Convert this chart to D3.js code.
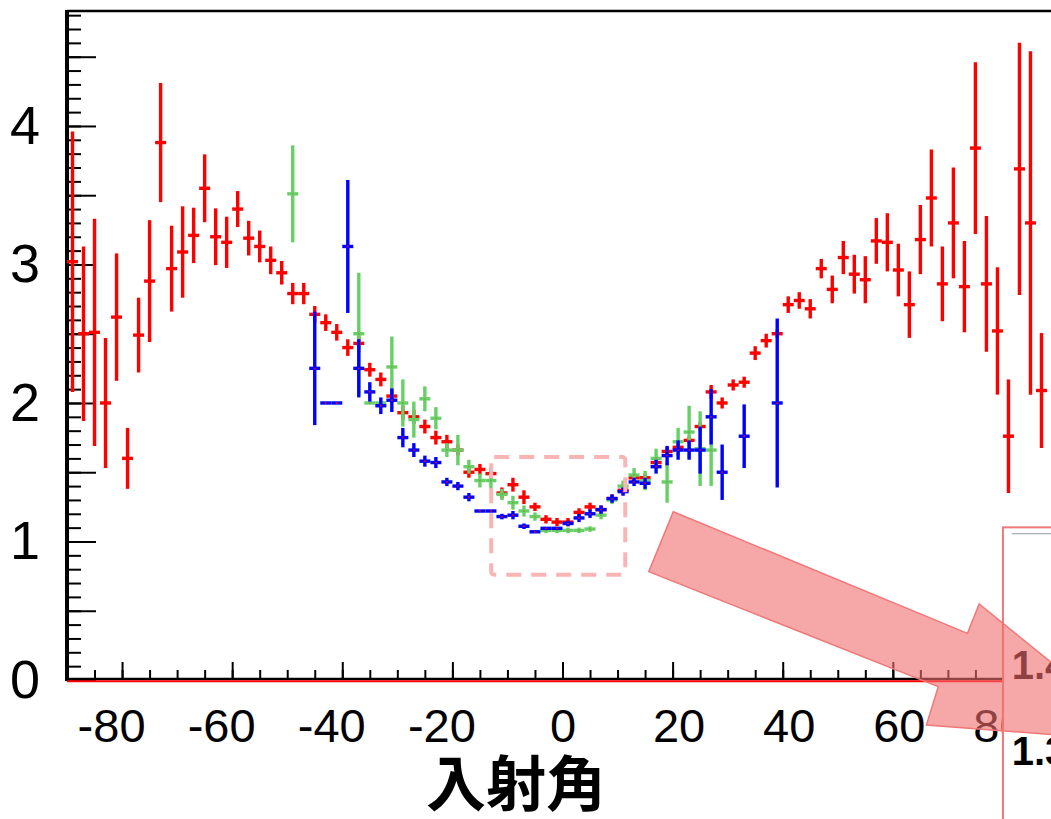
<!DOCTYPE html>
<html>
<head>
<meta charset="utf-8">
<script src="https://cdn.jsdelivr.net/npm/d3@7"></script>
<style>
  body { margin: 0; background: #fff; }
  svg { display: block; }
</style>
</head>
<body>
<div id="chart"></div>
<script>
// Bin centres are every 2 degrees, each point spans +-1 degree
const binHalfWidth = 1;

// Red series
const redAngle = [-89, -87, -85, -83, -81, -79, -77, -75, -73, -71, -69, -67, -65, -63, -61, -59, -57, -55,
  -53, -51, -49, -47, -45, -43, -41, -39, -37, -35, -33, -31, -29, -27, -25, -23, -21, -19, -17, -15, -13, -11,
  -9, -7, -5, -3, -1, 1, 3, 5, 7, 9, 11, 13, 15, 17, 19, 21, 23, 25, 27, 29, 31, 33, 35, 37, 39,
  41, 43, 45, 47, 49, 51, 53, 55, 57, 59, 61, 63, 65, 67, 69, 71, 73, 75, 77, 79, 81, 83, 85, 87];
const redValue = [3.02, 2.50, 2.51, 2.00, 2.62, 1.60, 2.49, 2.88, 3.88, 2.97, 3.09, 3.21, 3.55, 3.20, 3.16, 3.40, 3.19, 3.13,
  3.03, 2.94, 2.79, 2.79, 2.64, 2.58, 2.51, 2.40, 2.43, 2.24, 2.17, 2.05, 1.93, 1.90, 1.83, 1.75, 1.72, 1.66, 1.50, 1.52, 1.49, 1.35,
  1.41, 1.32, 1.25, 1.16, 1.14, 1.14, 1.21, 1.25, 1.23, 1.31, 1.37, 1.46, 1.46, 1.57, 1.65, 1.68, 1.73, 1.83, 2.08, 2.00, 2.13, 2.15, 2.36, 2.45, 2.50,
  2.71, 2.74, 2.68, 2.97, 2.82, 3.05, 2.93, 2.89, 3.17, 3.16, 2.96, 2.71, 3.18, 3.48, 2.86, 3.30, 2.84, 3.84, 2.86, 2.52, 1.76, 3.69, 3.30, 2.09];
const redError = [0.94, 0.63, 0.82, 0.47, 0.46, 0.22, 0.27, 0.44, 0.43, 0.31, 0.33, 0.20, 0.245, 0.205, 0.185, 0.13, 0.125, 0.115,
  0.10, 0.085, 0.077, 0.077, 0.06, 0.06, 0.06, 0.06, 0.06, 0.05, 0.05, 0.05, 0.05, 0.05, 0.05, 0.05, 0.05, 0.04, 0.04, 0.04, 0.04, 0.04,
  0.05, 0.05, 0.03, 0.03, 0.03, 0.03, 0.03, 0.03, 0.03, 0.03, 0.03, 0.03, 0.03, 0.03, 0.03, 0.03, 0.03, 0.03, 0.05, 0.04, 0.04, 0.04, 0.05, 0.05, 0.03,
  0.06, 0.06, 0.07, 0.07, 0.10, 0.12, 0.14, 0.17, 0.165, 0.21, 0.19, 0.24, 0.25, 0.35, 0.27, 0.40, 0.33, 0.62, 0.49, 0.46, 0.41, 0.91, 1.24, 0.415];

// Green series
const greenAngle = [-49, -37, -35, -33, -31, -29, -27, -25, -23, -21, -19, -17, -15, -13, -11, -9, -7, -5, -3, -1,
  1, 3, 5, 7, 9, 11, 13, 15, 17, 19, 21, 23, 25, 27];
const greenValue = [3.51, 2.50, 2.00, 2.00, 2.26, 2.00, 1.88, 2.03, 1.89, 1.66, 1.66, 1.54, 1.44, 1.44, 1.34, 1.28, 1.22, 1.18, 1.08, 1.08,
  1.08, 1.08, 1.09, 1.19, 1.30, 1.40, 1.48, 1.44, 1.60, 1.43, 1.72, 1.79, 1.67, 1.66];
const greenError = [0.35, 0.44, 0, 0, 0.22, 0.17, 0.13, 0.09, 0.08, 0.05, 0.11, 0.05, 0.05, 0.06, 0.04, 0.05, 0.04, 0.03, 0.02, 0.02,
  0.02, 0.02, 0.02, 0.03, 0.03, 0.04, 0.05, 0.07, 0.07, 0.15, 0.10, 0.19, 0.27, 0.26];

// Blue series
const blueAngle = [-45, -43, -41, -39, -37, -35, -33, -31, -29, -27, -25, -23, -21, -19, -17, -15, -13, -11, -9, -7,
  -5, -3, -1, 1, 3, 5, 7, 9, 11, 13, 15, 17, 19, 21, 23, 25, 27, 29, 33, 39];
const blueValue = [2.25, 2.00, 2.00, 3.13, 2.25, 2.08, 1.98, 2.02, 1.75, 1.66, 1.58, 1.57, 1.43, 1.40, 1.32, 1.22, 1.22, 1.18, 1.19, 1.11,
  1.07, 1.095, 1.095, 1.13, 1.17, 1.20, 1.23, 1.31, 1.36, 1.43, 1.42, 1.54, 1.62, 1.66, 1.66, 1.66, 1.90, 1.50, 1.76, 2.00];
const blueError = [0.41, 0, 0, 0.48, 0.21, 0.07, 0.06, 0.085, 0.07, 0.05, 0.04, 0.04, 0.03, 0.03, 0.03, 0, 0, 0.02, 0.03, 0.02,
  0, 0, 0, 0.02, 0.03, 0.03, 0.03, 0.03, 0.03, 0.03, 0.04, 0.05, 0.07, 0.07, 0.07, 0.17, 0.20, 0.20, 0.23, 0.61];

// Axis ticks and labels
const xTickLabels = [-80, -60, -40, -20, 0, 20, 40, 60, 80];
const yTickLabels = [0, 1, 2, 3, 4];
const xTitle = "入射角";

// Annotations (in data units): zoom box, arrow, inset labels
const zoomBox = { x0: -12.95, x1: 11.4, y0: 0.76, y1: 1.61 };
const arrowAngle = [20.12, 73.56, 75.68, 106.6, 66.1, 68.25, 15.67];
const arrowValue = [1.215, 0.337, 0.549, -0.448, -0.325, -0.048, 0.782];
const insetLabels = ["1.4", "1.3"];

const width = 1051;
const height = 819;

const svg = d3.select("#chart")
    .append("svg")
    .attr("width", width)
    .attr("height", height);

// Scales (the frame runs past the right side of the picture)
const x = d3.scaleLinear().domain([-90, 90]).range([67, 1058]);
const y = d3.scaleLinear().domain([0, 4.83]).range([680, 11]);

const labelFont = "'Liberation Sans', Arial, sans-serif";

// Y ticks, pointing into the plot
svg.append("g")
    .attr("transform", `translate(${x(-90)},0)`)
    .call(d3.axisRight(y).tickValues(d3.range(0, 4.85, 0.1)).tickSize(14).tickFormat(""))
    .call(g => g.select(".domain").remove())
    .selectAll("line").attr("stroke", "#000").attr("stroke-width", 2);

svg.append("g")
    .attr("transform", `translate(${x(-90)},0)`)
    .call(d3.axisRight(y).tickValues(d3.range(0, 4.85, 0.5)).tickSize(29).tickFormat(""))
    .call(g => g.select(".domain").remove())
    .selectAll("line").attr("stroke", "#000").attr("stroke-width", 2);

// Y labels
svg.append("g")
    .attr("transform", `translate(${x(-90)},0)`)
    .call(d3.axisLeft(y).tickValues(yTickLabels).tickSize(0).tickPadding(27).tickFormat(d => String(d)))
    .call(g => g.select(".domain").remove())
    .selectAll("text")
    .style("font-family", labelFont)
    .style("font-size", "54px")
    .attr("fill", "#000");

// X ticks, pointing up into the plot
svg.append("g")
    .attr("transform", `translate(0,${y(0)})`)
    .call(d3.axisTop(x).tickValues(d3.range(-90, 91, 5)).tickSize(10).tickFormat(""))
    .call(g => g.select(".domain").remove())
    .selectAll("line").attr("stroke", "#000").attr("stroke-width", 2);

svg.append("g")
    .attr("transform", `translate(0,${y(0)})`)
    .call(d3.axisTop(x).tickValues(xTickLabels).tickSize(18).tickFormat(""))
    .call(g => g.select(".domain").remove())
    .selectAll("line").attr("stroke", "#000").attr("stroke-width", 2);

// X labels (plain hyphen for the minus, as in the original)
svg.append("g")
    .attr("transform", `translate(0,${y(0)})`)
    .call(d3.axisBottom(x).tickValues(xTickLabels).tickSize(0).tickFormat(d => String(d)))
    .call(g => g.select(".domain").remove())
    .selectAll("text")
    .attr("y", 62)
    .attr("dy", 0)
    .attr("dx", d => d < 0 ? -11 : (d === 80 ? -4 : (d === 0 ? 0 : 6)))
    .style("font-family", labelFont)
    .style("font-size", "47px")
    .attr("fill", "#000");

// Frame lines
svg.append("line")
    .attr("x1", x(-90)).attr("x2", x(90))
    .attr("y1", y(4.83)).attr("y2", y(4.83))
    .attr("stroke", "#000").attr("stroke-width", 2.5);

svg.append("line")
    .attr("x1", x(-90)).attr("x2", x(-90))
    .attr("y1", y(4.83) - 1).attr("y2", y(0) + 1)
    .attr("stroke", "#000").attr("stroke-width", 4);

svg.append("line")
    .attr("x1", x(-90)).attr("x2", x(90))
    .attr("y1", y(0) - 1).attr("y2", y(0) - 1)
    .attr("stroke", "#000").attr("stroke-width", 2.5);

// red zero line of the histogram
svg.append("line")
    .attr("x1", x(-90)).attr("x2", x(90))
    .attr("y1", y(0) + 1.2).attr("y2", y(0) + 1.2)
    .attr("stroke", "#ff0000").attr("stroke-width", 2);

// Error bar series
function drawSeries(angles, values, errors, color, dotColor) {
    const pts = angles.map((a, i) => ({ a: a, v: values[i], e: errors[i] }));
    const g = svg.append("g");

    g.selectAll("line.vbar")
        .data(pts.filter(d => d.e > 0))
        .enter()
        .append("line")
        .attr("class", "vbar")
        .attr("x1", d => x(d.a))
        .attr("x2", d => x(d.a))
        .attr("y1", d => y(d.v + d.e))
        .attr("y2", d => y(d.v - d.e))
        .attr("stroke", color)
        .attr("stroke-width", 3.4);

    g.selectAll("line.hbar")
        .data(pts)
        .enter()
        .append("line")
        .attr("class", "hbar")
        .attr("x1", d => x(d.a - binHalfWidth))
        .attr("x2", d => x(d.a + binHalfWidth))
        .attr("y1", d => y(d.v))
        .attr("y2", d => y(d.v))
        .attr("stroke", color)
        .attr("stroke-width", 3.4);

    g.selectAll("circle")
        .data(pts)
        .enter()
        .append("circle")
        .attr("cx", d => x(d.a))
        .attr("cy", d => y(d.v))
        .attr("r", 0.9)
        .attr("fill", dotColor);
}

drawSeries(redAngle, redValue, redError, "#ff0000", "#ff0000");
drawSeries(greenAngle, greenValue, greenError, "#66d066", "#8a9a4a");
drawSeries(blueAngle, blueValue, blueError, "#0000ff", "#ff0000");

// X title
svg.append("text")
    .attr("x", 516)
    .attr("y", 806)
    .attr("text-anchor", "middle")
    .style("font-family", "'Noto Sans CJK JP', 'Noto Sans CJK SC', sans-serif")
    .style("font-weight", "bold")
    .style("font-size", "60px")
    .attr("fill", "#000")
    .text(xTitle);

// Dashed zoom box round the minimum
svg.append("rect")
    .attr("x", x(zoomBox.x0))
    .attr("y", y(zoomBox.y1))
    .attr("width", x(zoomBox.x1) - x(zoomBox.x0))
    .attr("height", y(zoomBox.y0) - y(zoomBox.y1))
    .attr("rx", 3)
    .attr("fill", "none")
    .attr("stroke", "#f9b4b4")
    .attr("stroke-width", 4)
    .attr("stroke-dasharray", "15 10");

// Inset panel (cut off at the right edge)
const inset = svg.append("g");
inset.append("rect")
    .attr("x", x(80))
    .attr("y", y(1.102))
    .attr("width", 120)
    .attr("height", 320)
    .attr("fill", "#fff")
    .attr("stroke", "#f07878")
    .attr("stroke-width", 2);

inset.append("line")
    .attr("x1", x(81.6)).attr("x2", width)
    .attr("y1", y(1.056)).attr("y2", y(1.056))
    .attr("stroke", "#999").attr("stroke-width", 1);

inset.selectAll("text")
    .data(insetLabels)
    .enter()
    .append("text")
    .attr("x", x(81.6))
    .attr("y", (d, i) => i === 0 ? 679 : 765)
    .style("font-family", labelFont)
    .style("font-weight", "bold")
    .style("font-size", "40px")
    .attr("fill", "#000")
    .text(d => d);

// Big arrow pointing at the inset
const arrowPts = arrowAngle.map((a, i) => [x(a), y(arrowValue[i])]);
svg.append("path")
    .attr("d", d3.line()(arrowPts) + "Z")
    .attr("fill", "rgb(240,110,110)")
    .attr("fill-opacity", 0.6)
    .attr("stroke", "rgb(240,120,120)")
    .attr("stroke-width", 1.5);
</script>
</body>
</html>
